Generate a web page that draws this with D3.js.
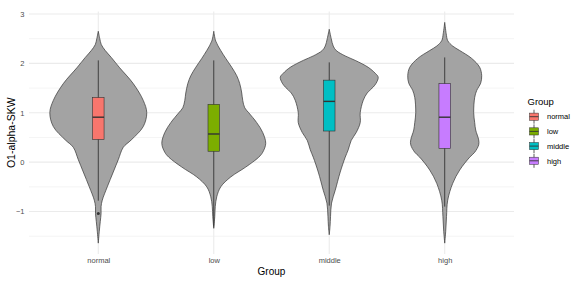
<!DOCTYPE html>
<html>
<head>
<meta charset="utf-8">
<script src="https://cdn.jsdelivr.net/npm/d3@7"></script>
<style>
  body { margin: 0; background: #fff; }
  svg { font-family: "Liberation Sans", Arial, sans-serif; }
</style>
</head>
<body>
<svg width="574" height="282"></svg>
<script>
// groups + fills (ggplot hue palette)
const groups = ["normal", "low", "middle", "high"];
const fills = ["#F8766D", "#7CAE00", "#00BFC4", "#C77CFF"];

// violin outlines: value grid + estimated density
const normalY = [2.65, 2.5, 2.38, 2.26, 2.12, 1.92, 1.59, 1.25, 1.0, 0.72, 0.45, 0.3, 0.05, -0.2, -0.5, -0.77, -0.9, -1.04, -1.2, -1.4, -1.64];
const normalDens = [0, 0.015, 0.03, 0.07, 0.13, 0.21, 0.35, 0.45, 0.485, 0.45, 0.33, 0.25, 0.2, 0.15, 0.09, 0.04, 0.028, 0.028, 0.02, 0.01, 0];
const lowY = [2.65, 2.45, 2.26, 2.1, 1.92, 1.75, 1.59, 1.4, 1.25, 1.1, 1.0, 0.8, 0.6, 0.38, 0.2, 0.1, -0.1, -0.3, -0.5, -0.7, -0.9, -1.1, -1.34];
const lowDens = [0, 0.02, 0.07, 0.12, 0.18, 0.23, 0.26, 0.28, 0.29, 0.31, 0.35, 0.43, 0.49, 0.52, 0.49, 0.45, 0.32, 0.17, 0.07, 0.03, 0.015, 0.01, 0];
const middleY = [2.69, 2.5, 2.35, 2.26, 2.15, 2.06, 1.92, 1.8, 1.72, 1.6, 1.52, 1.4, 1.25, 1.0, 0.8, 0.6, 0.44, 0.25, 0.1, -0.2, -0.57, -0.83, -1.1, -1.3, -1.47];
const middleDens = [0, 0.02, 0.04, 0.07, 0.16, 0.26, 0.39, 0.46, 0.49, 0.47, 0.44, 0.38, 0.34, 0.31, 0.31, 0.27, 0.22, 0.19, 0.16, 0.11, 0.06, 0.023, 0.013, 0.008, 0];
const highY = [2.83, 2.6, 2.46, 2.35, 2.26, 2.1, 1.92, 1.75, 1.6, 1.45, 1.31, 1.0, 0.8, 0.65, 0.45, 0.35, 0.2, 0.1, -0.16, -0.43, -0.77, -1.1, -1.4, -1.64];
const highDens = [0, 0.015, 0.03, 0.08, 0.15, 0.27, 0.35, 0.37, 0.36, 0.32, 0.3, 0.29, 0.3, 0.31, 0.34, 0.34, 0.3, 0.25, 0.15, 0.08, 0.03, 0.018, 0.01, 0];

// boxplot stats
const whiskerLow = [-0.78, -1.3, -0.88, -0.9];
const q1 = [0.46, 0.22, 0.63, 0.28];
const medians = [0.91, 0.57, 1.23, 0.91];
const q3 = [1.31, 1.17, 1.66, 1.59];
const whiskerHigh = [2.06, 2.06, 2.02, 2.12];
const outliers = [[-1.04], [], [], []];

const yTicks = [-1, 0, 1, 2, 3];
const yMinor = [-1.5, -0.5, 0.5, 1.5, 2.5];

const profiles = [
  d3.zip(normalY, normalDens),
  d3.zip(lowY, lowDens),
  d3.zip(middleY, middleDens),
  d3.zip(highY, highDens)
];

const svg = d3.select("svg");
const pLeft = 29, pRight = 514, pTop = 11.5, pBottom = 254;

const x = d3.scalePoint().domain(groups).range([pLeft, pRight]).padding(0.6);
const y = d3.scaleLinear().domain([-1.86, 3.05]).range([pBottom, pTop]);
const w = d3.scaleLinear()
  .domain([0, d3.max(profiles.flat(), d => d[1])])
  .range([0, x.step() * 0.45]);

// grid
const grid = svg.append("g");
grid.selectAll(".minor").data(yMinor).enter().append("line")
  .attr("x1", pLeft).attr("x2", pRight)
  .attr("y1", d => y(d)).attr("y2", d => y(d))
  .attr("stroke", "#EBEBEB").attr("stroke-width", 0.55);
grid.selectAll(".major").data(yTicks).enter().append("line")
  .attr("x1", pLeft).attr("x2", pRight)
  .attr("y1", d => y(d)).attr("y2", d => y(d))
  .attr("stroke", "#EBEBEB").attr("stroke-width", 1.1);
grid.selectAll(".vmajor").data(groups).enter().append("line")
  .attr("x1", d => x(d)).attr("x2", d => x(d))
  .attr("y1", pTop).attr("y2", pBottom)
  .attr("stroke", "#EBEBEB").attr("stroke-width", 1.1);

// violins
const area = d3.area()
  .curve(d3.curveCatmullRom)
  .y(d => y(d[0]));

svg.selectAll(".violin").data(groups).enter().append("path")
  .attr("d", (g, i) => area
    .x0(d => x(g) - w(d[1]))
    .x1(d => x(g) + w(d[1]))(profiles[i]))
  .attr("fill", "#A3A3A3")
  .attr("stroke", "#333333")
  .attr("stroke-width", 0.7);

// boxplots
const bw = x.step() * 0.1;
const boxes = svg.selectAll(".box").data(groups).enter().append("g");
boxes.append("line")
  .attr("x1", d => x(d)).attr("x2", d => x(d))
  .attr("y1", (d, i) => y(whiskerHigh[i])).attr("y2", (d, i) => y(whiskerLow[i]))
  .attr("stroke", "#333").attr("stroke-width", 0.9);
boxes.append("rect")
  .attr("x", d => x(d) - bw / 2).attr("width", bw)
  .attr("y", (d, i) => y(q3[i])).attr("height", (d, i) => y(q1[i]) - y(q3[i]))
  .attr("fill", (d, i) => fills[i])
  .attr("stroke", "#333").attr("stroke-width", 0.6);
boxes.append("line")
  .attr("x1", d => x(d) - bw / 2).attr("x2", d => x(d) + bw / 2)
  .attr("y1", (d, i) => y(medians[i])).attr("y2", (d, i) => y(medians[i]))
  .attr("stroke", "#333").attr("stroke-width", 1.4);
boxes.each(function(g, i) {
  d3.select(this).selectAll("circle").data(outliers[i]).enter().append("circle")
    .attr("cx", x(g)).attr("cy", d => y(d)).attr("r", 1.5)
    .attr("fill", "#333");
});

// axes (ggplot minimal: no lines, just labels)
const yAxis = svg.append("g")
  .attr("transform", `translate(${pLeft - 2.5},0)`)
  .call(d3.axisLeft(y).tickValues(yTicks).tickFormat(d3.format("d")).tickSize(0).tickPadding(2));
yAxis.select(".domain").remove();
yAxis.selectAll("text").attr("fill", "#4D4D4D").attr("font-size", 7.5)
  .attr("font-family", "Liberation Sans, Arial, sans-serif");

const xAxis = svg.append("g")
  .attr("transform", `translate(0,${pBottom + 1})`)
  .call(d3.axisBottom(x).tickSize(0).tickPadding(3));
xAxis.select(".domain").remove();
xAxis.selectAll("text").attr("fill", "#4D4D4D").attr("font-size", 7.5)
  .attr("font-family", "Liberation Sans, Arial, sans-serif");

// titles
svg.append("text")
  .attr("x", (pLeft + pRight) / 2).attr("y", 274.5)
  .attr("text-anchor", "middle").attr("font-size", 10)
  .text("Group");
svg.append("text")
  .attr("transform", `translate(15,${(pTop + pBottom) / 2}) rotate(-90)`)
  .attr("text-anchor", "middle").attr("font-size", 10.5)
  .text("O1-alpha-SKW");

// legend
const legend = svg.append("g");
legend.append("text")
  .attr("x", 527.5).attr("y", 105).attr("font-size", 9.5)
  .text("Group");
const keys = legend.selectAll(".key").data(groups).enter().append("g")
  .attr("transform", (d, i) => `translate(534,${116.7 + i * 14.7})`);
keys.append("line")
  .attr("y1", -7).attr("y2", 7)
  .attr("stroke", "#333").attr("stroke-width", 0.8);
keys.append("rect")
  .attr("x", -4.5).attr("y", -3.6).attr("width", 9).attr("height", 7.2)
  .attr("fill", (d, i) => fills[i])
  .attr("stroke", "#333").attr("stroke-width", 0.5);
keys.append("line")
  .attr("x1", -4.5).attr("x2", 4.5)
  .attr("stroke", "#333").attr("stroke-width", 0.9);
keys.append("text")
  .attr("x", 13).attr("y", 2.7).attr("font-size", 7.5)
  .text(d => d);
</script>
</body>
</html>
